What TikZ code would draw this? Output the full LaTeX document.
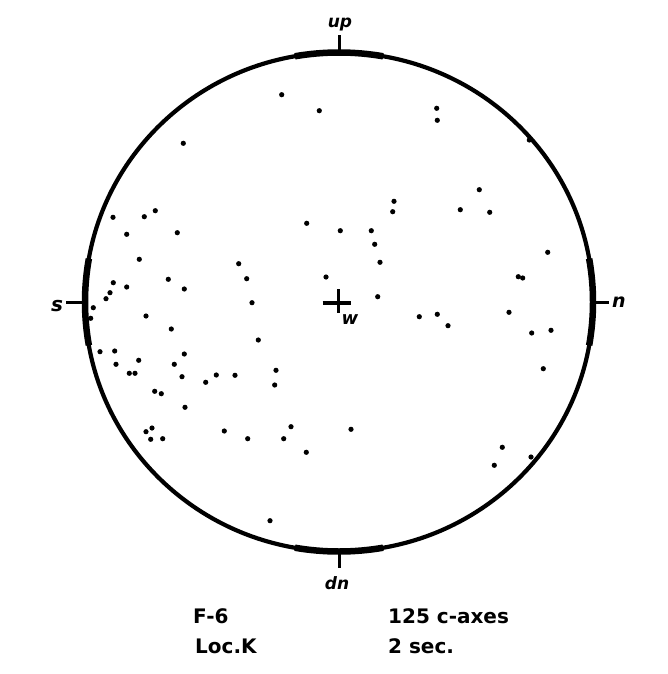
\documentclass[tikz,border=0pt]{standalone}
\usepackage{fontspec}
\setmainfont{DejaVu Sans}
\begin{document}
\begin{tikzpicture}[x = 1pt, y = -1pt,
  pole/.style = {font = \fontsize{17}{17}\selectfont\bfseries\itshape, inner sep = 0, anchor = base},
  caption/.style = {font = \fontsize{20}{20}\selectfont\bfseries, inner sep = 0, anchor = base west},
  tick/.style = {line width = 3}]
\useasboundingbox (0, 0) rectangle (668, 674);
\coordinate (c) at (339, 302);
\draw [line width = 4.2] (c) ellipse [x radius = 254, y radius = 249.5];
\foreach \a in {0, 90, 180, 270}
  \draw [line width = 6.5] (c) ++({\a - 10}:254 and 249.5)
        arc [start angle = \a - 10, end angle = \a + 10, x radius = 254, y radius = 249.5];
\coordinate (ctop) at (339, 52.5);
\coordinate (cbot) at (339, 551.5);
\coordinate (cleft) at (85, 302);
\coordinate (cright) at (593, 302);
\coordinate (tup) at (339, 35);
\coordinate (tdn) at (339, 568);
\coordinate (ts) at (66, 302);
\coordinate (tn) at (609, 302);
\draw [tick] (ctop) -- (tup);
\draw [tick] (cbot) -- (tdn);
\draw [tick] (cleft) -- (ts);
\draw [tick] (cright) -- (tn);
\node [pole] (up) at (340, 28) {up};
\node [pole] (dn) at (337, 589) {dn};
\node [pole, font = \fontsize{20}{20}\selectfont\bfseries\itshape] (s) at (57, 311) {s};
\node [pole, font = \fontsize{19}{19}\selectfont\bfseries\itshape] (n) at (619, 307) {n};
\draw [line width = 3.4] (322.5, 303) -- (350.5, 303);
\draw [line width = 3.4] (338.3, 289) -- (338.3, 313);
\node [pole, font = \fontsize{18}{18}\selectfont\bfseries\itshape] (w) at (350, 324) {w};
\foreach \x/\y in {281.7/94.7, 319.3/110.7, 183.3/143.3, 155.3/210.7, 144.3/216.7,
    113/217.3, 126.7/234.3, 177.3/232.7, 306.7/223.3, 139.3/259.3, 238.7/263.7,
    326/277, 246.7/278.7, 168.3/279.3, 184.3/289, 113.3/282.7, 126.7/287,
    110/292.7, 106/298.7, 93.3/307.7, 252/302.7, 436.7/108.3, 437.3/120.3,
    529.3/140, 479.3/189.7, 394/201.3, 392.7/211.7, 460.3/209.7, 489.7/212.3,
    340.3/230.7, 371.3/230.7, 374.7/244.3, 380/262.3, 547.7/252.3, 518.3/276.7,
    522.7/278, 377.7/296.7, 90.7/318.3, 146/316, 171.3/329, 258.3/340,
    100/351.7, 114.7/351, 116/364.3, 138.7/360.3, 184.3/354, 174.3/364.3,
    129.3/373.3, 135/373.3, 182/376.7, 205.7/382.3, 216.3/375, 235/375.3,
    276/370.3, 274.7/385, 154.7/391.3, 161.3/393.7, 185/407.3, 146/431.7,
    152/428, 150.7/439.3, 162.7/438.7, 224.3/431, 247.7/438.7, 291/426.7,
    283.7/438.7, 306.3/452.3, 270/520.7, 419.3/316.7, 437.3/314.3, 448/325.7,
    509/312.3, 531.7/333, 551/330.3, 543.3/368.7, 351/429.3, 502.3/447.3,
    494.3/465.3, 531/457}
  \fill (\x, \y) circle [radius = 2.6];
\node [caption] (sample) at (193, 623) {F-6};
\node [caption] (loc) at (195, 653) {Loc.K};
\node [caption] (count) at (388, 623) {125 c-axes};
\node [caption] (time) at (388, 653) {2 sec.};
\end{tikzpicture}
\end{document}
